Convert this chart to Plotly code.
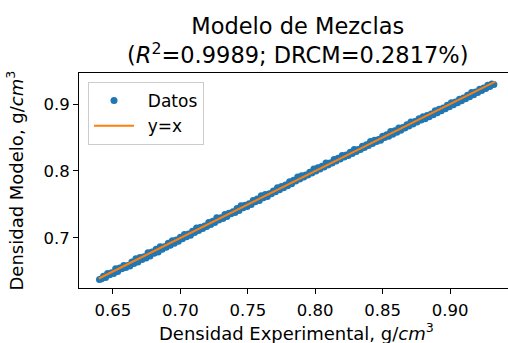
import plotly.graph_objects as go

# Experimental density (x) and model density (y)
x_exp = [0.640,0.643,0.646,0.649,0.652,0.655,0.658,0.661,0.664,0.667,0.670,0.673,0.676,0.679,0.682,0.685,0.688,0.691,0.694,0.697,
         0.700,0.703,0.706,0.709,0.712,0.715,0.718,0.721,0.724,0.727,0.730,0.733,0.736,0.739,0.742,0.745,0.748,0.751,0.754,0.757,
         0.760,0.763,0.766,0.769,0.772,0.775,0.778,0.781,0.784,0.787,0.790,0.793,0.796,0.799,0.802,0.805,0.808,0.811,0.814,0.817,
         0.820,0.823,0.826,0.829,0.832,0.835,0.838,0.841,0.844,0.847,0.850,0.853,0.856,0.859,0.862,0.865,0.868,0.871,0.874,0.877,
         0.880,0.883,0.886,0.889,0.892,0.895,0.898,0.901,0.904,0.907,0.910,0.913,0.916,0.919,0.922,0.925,0.928,0.931,
         0.6415,0.6445,0.6475,0.6505,0.6535,0.6565,0.6595,0.6625,0.6655,0.6685,0.6715,0.6745,0.6775,0.6805,0.6835,0.6865,0.6895,0.6925,0.6955,0.6985,
         0.7015,0.7045,0.7075,0.7105,0.7135,0.7165,0.7195,0.7225,0.7255,0.7285,0.7315,0.7345,0.7375,0.7405,0.7435,0.7465,0.7495,0.7525,0.7555,0.7585,
         0.7615,0.7645,0.7675,0.7705,0.7735,0.7765,0.7795,0.7825,0.7855,0.7885,0.7915,0.7945,0.7975,0.8005,0.8035,0.8065,0.8095,0.8125,0.8155,0.8185,
         0.8215,0.8245,0.8275,0.8305,0.8335,0.8365,0.8395,0.8425,0.8455,0.8485,0.8515,0.8545,0.8575,0.8605,0.8635,0.8665,0.8695,0.8725,0.8755,0.8785,
         0.8815,0.8845,0.8875,0.8905,0.8935,0.8965,0.8995,0.9025,0.9055,0.9085,0.9115,0.9145,0.9175,0.9205,0.9235,0.9265,0.9295,0.9325]
y_mod = [0.638,0.643,0.647,0.648,0.654,0.655,0.659,0.659,0.664,0.669,0.671,0.672,0.678,0.679,0.683,0.687,0.687,0.692,0.696,0.697,
         0.701,0.705,0.706,0.710,0.715,0.716,0.718,0.723,0.725,0.730,0.730,0.735,0.737,0.739,0.744,0.748,0.749,0.751,0.756,0.758,
         0.763,0.765,0.766,0.770,0.775,0.777,0.779,0.784,0.786,0.791,0.793,0.794,0.798,0.803,0.805,0.807,0.812,0.812,0.817,0.819,
         0.823,0.824,0.828,0.832,0.832,0.837,0.839,0.844,0.846,0.847,0.852,0.854,0.859,0.860,0.864,0.865,0.869,0.873,0.874,0.878,
         0.881,0.883,0.885,0.890,0.892,0.894,0.898,0.902,0.903,0.907,0.909,0.913,0.917,0.918,0.922,0.924,0.928,0.930,
         0.639,0.641,0.645,0.647,0.650,0.654,0.656,0.658,0.662,0.664,0.668,0.670,0.673,0.677,0.679,0.683,0.686,0.689,0.692,0.695,
         0.699,0.702,0.704,0.708,0.711,0.714,0.717,0.720,0.723,0.727,0.729,0.732,0.736,0.738,0.741,0.745,0.747,0.750,0.754,0.756,
         0.760,0.762,0.766,0.769,0.772,0.775,0.778,0.781,0.785,0.788,0.791,0.794,0.797,0.800,0.803,0.806,0.809,0.812,0.815,0.818,
         0.821,0.823,0.826,0.829,0.832,0.835,0.838,0.841,0.844,0.846,0.850,0.852,0.855,0.858,0.861,0.864,0.867,0.870,0.873,0.876,
         0.878,0.881,0.884,0.887,0.890,0.893,0.896,0.899,0.902,0.905,0.908,0.911,0.914,0.917,0.920,0.923,0.926,0.929]
line_x = [0.6395, 0.9335]
line_y = [0.6395, 0.9335]
x_ticks = [0.65, 0.70, 0.75, 0.80, 0.85, 0.90]
y_ticks = [0.7, 0.8, 0.9]

FONT = "DejaVu Sans"
fig = go.Figure()
fig.add_trace(go.Scatter(x=x_exp, y=y_mod, mode="markers", name="\u00a0\u2009Datos",
                         marker=dict(color="#1f77b4", size=7, line=dict(width=0))))
fig.add_trace(go.Scatter(x=line_x, y=line_y, mode="lines", name="\u00a0\u2009y=x",
                         line=dict(color="#ff7f0e", width=2)))

fig.update_layout(
    width=508, height=343,
    margin=dict(l=79, r=0, t=73, b=55),
    paper_bgcolor="white", plot_bgcolor="white",
    font=dict(family=FONT, size=16.5, color="black"),
    showlegend=True,
    legend=dict(x=0.021, y=0.958, xanchor="left", yanchor="top",
                bordercolor="#cccccc", borderwidth=1, bgcolor="rgba(255,255,255,0.8)",
                font=dict(size=17, family=FONT), itemwidth=40, tracegroupgap=0),
    xaxis=dict(range=[0.6248, 0.9430], tickvals=x_ticks, tickformat=".2f",
               showline=True, linecolor="black", linewidth=1, mirror=True,
               ticks="outside", ticklen=5, tickcolor="black", showgrid=False, zeroline=False,
               tickfont=dict(size=16.5), ticklabelstandoff=2),
    yaxis=dict(range=[0.6253, 0.9463], tickvals=y_ticks, tickformat=".1f",
               showline=True, linecolor="black", linewidth=1,
               ticks="outside", ticklen=5, tickcolor="black", showgrid=False, zeroline=False,
               tickfont=dict(size=16.5)),
)
fig.add_annotation(text="Modelo de Mezclas<br>(<i>R</i><sup>2</sup>=0.9989; DRCM=0.2817%)",
                   xref="paper", yref="paper", x=0.51, y=1.0, yshift=3,
                   xanchor="center", yanchor="bottom", showarrow=False,
                   font=dict(size=22.5, family=FONT))
fig.add_annotation(text="Densidad Experimental, g/<i>cm</i><sup>3</sup>",
                   xref="paper", yref="paper", x=0.508, y=0, yshift=-30,
                   xanchor="center", yanchor="top", showarrow=False,
                   font=dict(size=18, family=FONT))
fig.add_annotation(text="Densidad Modelo, g/<i>cm</i><sup>3</sup>",
                   xref="paper", yref="paper", x=0, y=0.5, xshift=-64, textangle=-90,
                   xanchor="center", yanchor="middle", showarrow=False,
                   font=dict(size=18, family=FONT))
fig.write_html("out.html")
